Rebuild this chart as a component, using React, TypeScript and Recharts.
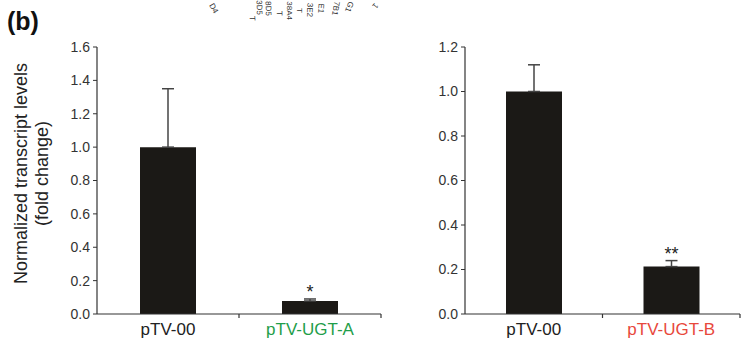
import { BarChart, Bar, XAxis, YAxis, ErrorBar, LabelList } from "recharts";

const GROUPS_A = ["pTV-00", "pTV-UGT-A"];
const VALUES_A = [1.0, 0.078];
const ERRORS_A = [0.35, 0.012];
const SIG_A = ["", "*"];
const TICKS_A = [0, 0.2, 0.4, 0.6, 0.8, 1.0, 1.2, 1.4, 1.6];

const GROUPS_B = ["pTV-00", "pTV-UGT-B"];
const VALUES_B = [1.0, 0.213];
const ERRORS_B = [0.12, 0.027];
const SIG_B = ["", "**"];
const TICKS_B = [0, 0.2, 0.4, 0.6, 0.8, 1.0, 1.2];

// fragments of the rotated labels from the panel above (cut off in the original)
const TOP_FRAGMENTS = ["D4", "3D5", "T", "8D5", "T", "38A4", "T", "3E2", "E1", "7B1", "G1", "1"];
const TOP_X = [214, 257, 250, 266, 277, 287, 297, 307, 318, 332, 345, 372];
const TOP_END = [14, 15, 21, 16, 16, 20, 13, 17, 13, 15, 11, 6];
const TOP_ANGLE = [60, 88, 85, 88, 88, 90, 90, 92, 95, 100, 110, 130];

const FONT = "'Liberation Sans', Arial, sans-serif";
const AXIS = "#333";
const BAR = "#1b1916";

const toRows = (groups: string[], vals: number[], errs: number[], sig: string[]) =>
  groups.map((g, i) => ({ name: g, value: vals[i], err: [0, errs[i]], sig: sig[i] }));

function makeTick(band: number, colors: string[]) {
  return (props: any) => {
    const { x, y, payload, index } = props;
    return (
      <g>
        <line x1={x + band / 2} x2={x + band / 2} y1={y} y2={y + 4} stroke={AXIS} strokeWidth={1.2} />
        <text x={x} y={y + 21} textAnchor="middle" fontSize={17} fontFamily={FONT} fill={colors[index]}>
          {payload.value}
        </text>
      </g>
    );
  };
}

function makeStars(vals: number[], errs: number[]) {
  return (props: any) => {
    const { x, y, width, height, value, index } = props;
    if (!value) return null;
    const ppu = height / vals[index];
    const top = y - errs[index] * ppu;
    return (
      <text x={x + width / 2} y={top - 1} textAnchor="middle" fontSize={18} fontFamily={FONT} fill="#222">
        {value}
      </text>
    );
  };
}

function Panel({ rows, ticks, max, width, yWidth, right, colors, vals, errs }: any) {
  const band = (width - yWidth - right) / rows.length;
  return (
    <BarChart width={width} height={349} data={rows} margin={{ top: 47, right, left: 0, bottom: 0 }} barSize={56}>
      <XAxis
        dataKey="name"
        height={35}
        axisLine={{ stroke: AXIS, strokeWidth: 1.2 }}
        tickLine={false}
        tickSize={0}
        tickMargin={0}
        interval={0}
        tick={makeTick(band, colors)}
      />
      <YAxis
        width={yWidth}
        domain={[0, max]}
        ticks={ticks}
        interval={0}
        allowDataOverflow
        tickFormatter={(v: number) => v.toFixed(1)}
        axisLine={{ stroke: AXIS, strokeWidth: 1.2 }}
        tickLine={{ stroke: AXIS, strokeWidth: 1 }}
        tickSize={4}
        tickMargin={3}
        tick={{ fontSize: 14, fontFamily: FONT, fill: "#333" }}
      />
      <Bar dataKey="value" fill={BAR} isAnimationActive={false}>
        <ErrorBar dataKey="err" width={6} strokeWidth={1.5} stroke="#444" direction="y" />
        <LabelList dataKey="sig" content={makeStars(vals, errs)} />
      </Bar>
    </BarChart>
  );
}

export default function App() {
  return (
    <div style={{ position: "absolute", left: 0, top: 0, width: 746, height: 349, background: "#fff", overflow: "hidden" }}>
      <div style={{ position: "absolute", left: 0, top: 0 }}>
        <Panel
          rows={toRows(GROUPS_A, VALUES_A, ERRORS_A, SIG_A)}
          ticks={TICKS_A}
          max={1.6}
          width={400}
          yWidth={97}
          right={19}
          colors={["#222", "#1f9e4a"]}
          vals={VALUES_A}
          errs={ERRORS_A}
        />
      </div>
      <div style={{ position: "absolute", left: 380, top: 0 }}>
        <Panel
          rows={toRows(GROUPS_B, VALUES_B, ERRORS_B, SIG_B)}
          ticks={TICKS_B}
          max={1.2}
          width={366}
          yWidth={85}
          right={6}
          colors={["#222", "#e8483c"]}
          vals={VALUES_B}
          errs={ERRORS_B}
        />
      </div>
      <svg width={746} height={349} style={{ position: "absolute", left: 0, top: 0, pointerEvents: "none" }}>
        <text x={7} y={30} fontSize={25} fontWeight="bold" fontFamily={FONT} fill="#111">
          (b)
        </text>
        <g fontSize={18} fontFamily={FONT} fill="#222" textAnchor="middle">
          <text transform="translate(27,173.5) rotate(-90)">Normalized transcript levels</text>
          <text transform="translate(48,173.5) rotate(-90)">(fold change)</text>
        </g>
        <g fontSize={8} fontFamily={FONT} fill="#333" textAnchor="end">
          {TOP_FRAGMENTS.map((t, i) => (
            <text key={i} transform={`translate(${TOP_X[i]},${TOP_END[i]}) rotate(${TOP_ANGLE[i]})`}>
              {t}
            </text>
          ))}
        </g>
      </svg>
    </div>
  );
}
